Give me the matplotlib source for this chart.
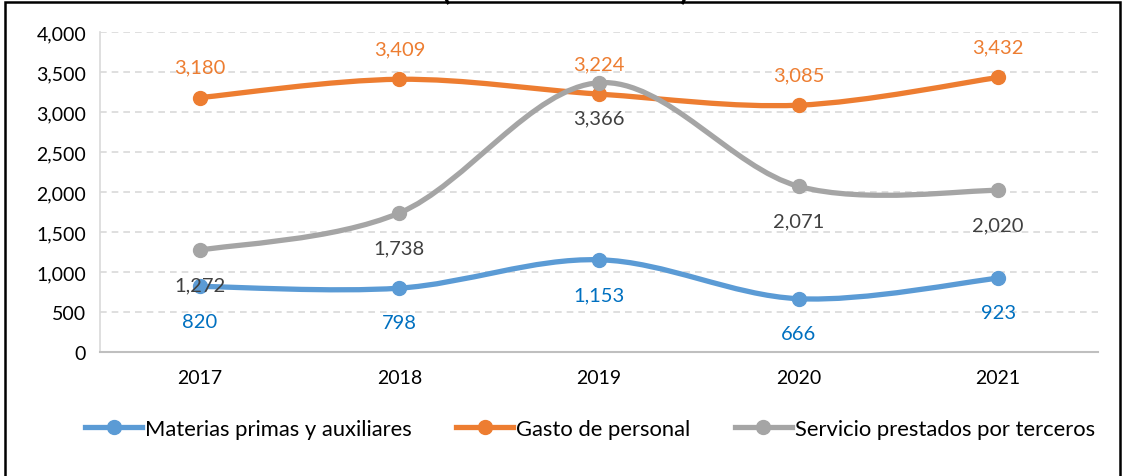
import numpy as np
import matplotlib.pyplot as plt
from matplotlib.path import Path
from matplotlib.patches import PathPatch, Rectangle
from matplotlib.lines import Line2D

plt.rcParams['font.family'] = ['Lato', 'DejaVu Sans']

years = ["2017", "2018", "2019", "2020", "2021"]
materias = [820, 798, 1153, 666, 923]
gasto = [3180, 3409, 3224, 3085, 3432]
servicio = [1272, 1738, 3366, 2071, 2020]

series = [
    ("Materias primas y auxiliares", materias, "#5B9BD5", "#0070C0", "below"),
    ("Gasto de personal", gasto, "#ED7D31", "#ED7D31", "above"),
    ("Servicio prestados por terceros", servicio, "#A5A5A5", "#404040", "below"),
]


def smooth_path(x, y, t=1 / 6):
    # Excel-like smoothed line: cubic bezier through the points
    pts = np.column_stack([x, y]).astype(float)
    verts = [pts[0]]
    codes = [Path.MOVETO]
    n = len(pts)
    for i in range(n - 1):
        p0 = pts[i - 1] if i > 0 else pts[i]
        p1 = pts[i]
        p2 = pts[i + 1]
        p3 = pts[i + 2] if i + 2 < n else pts[i + 1]
        c1 = p1 + (p2 - p0) * t
        c2 = p2 - (p3 - p1) * t
        verts += [c1, c2, p2]
        codes += [Path.CURVE4] * 3
    return Path(verts, codes)


fig = plt.figure(figsize=(11.24, 4.77), dpi=100)
ax = fig.add_axes([100 / 1124, 1 - 353 / 477, 998 / 1124, 320 / 477])

x = np.arange(len(years))
handles = []
for name, vals, col, lcol, pos in series:
    patch = PathPatch(smooth_path(x, vals), facecolor='none', edgecolor=col,
                      lw=3.8, capstyle='round', joinstyle='round', zorder=3)
    ax.add_patch(patch)
    ax.plot(x, vals, 'o', color=col, ms=10, zorder=4)
    for xi, v in zip(x, vals):
        off = 22 if pos == "above" else -25
        ax.annotate(f"{v:,}", (xi, v), xytext=(0, off), textcoords='offset points',
                    ha='center', va='center', fontsize=14.5, color=lcol, zorder=5)
    handles.append(Line2D([], [], color=col, lw=3.8, marker='o', ms=10))

ax.set_xlim(-0.5, 4.5)
ax.set_ylim(0, 4000)
ax.set_xticks(x)
ax.set_xticklabels(years)
ax.set_yticks(np.arange(0, 4001, 500))
ax.set_yticklabels([f"{v:,}" for v in range(0, 4001, 500)])
ax.tick_params(axis='both', length=0, labelsize=14, colors='black', pad=10)
ax.tick_params(axis='x', pad=12)
ax.yaxis.grid(True, color='#D9D9D9', ls=(0, (4, 3)), lw=1.2)
ax.set_axisbelow(True)
for s in ['top', 'right']:
    ax.spines[s].set_visible(False)
ax.spines['left'].set_color('#D9D9D9')
ax.spines['bottom'].set_color('#BFBFBF')
ax.spines['left'].set_linewidth(1.2)
ax.spines['bottom'].set_linewidth(1.5)

fig.legend(handles, [s[0] for s in series], loc='center', bbox_to_anchor=(590 / 1124, 1 - 430 / 477),
           ncol=3, frameon=False, fontsize=15.8, handlelength=2.6, handletextpad=0.15, columnspacing=2.0)

# outer frame, cut at bottom
fig.patches.append(Rectangle((5 / 1124, -0.02), 1115 / 1124, 1.02 - 3 / 477, transform=fig.transFigure,
                             fill=False, edgecolor='black', lw=1.8))
fig.text(565 / 1124, 1 + 1 / 477, "(En miles de soles)", ha='center', va='baseline', fontsize=22, weight='bold')

fig.savefig("out.png", dpi=100)
